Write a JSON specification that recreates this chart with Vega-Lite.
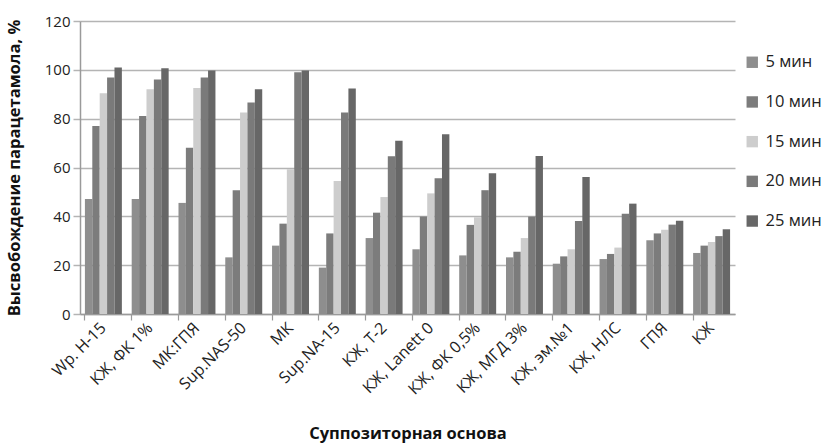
{
  "$schema": "https://vega.github.io/schema/vega-lite/v6.json",
  "autosize": "none",
  "width": 655,
  "height": 293,
  "padding": {"left": 80, "top": 21, "right": 93, "bottom": 131},
  "background": "white",
  "config": {
    "view": {"stroke": null},
    "font": "Open Sans",
    "axis": {"labelFont": "Open Sans", "titleFont": "Open Sans", "labelColor": "#222", "titleColor": "#111"}
  },
  "data": {"values": [
    {"base": "Wp. H-15", "t": "5 мин", "v": 47.1}, {"base": "Wp. H-15", "t": "10 мин", "v": 77.0}, {"base": "Wp. H-15", "t": "15 мин", "v": 90.4}, {"base": "Wp. H-15", "t": "20 мин", "v": 96.9}, {"base": "Wp. H-15", "t": "25 мин", "v": 101.0},
    {"base": "КЖ, ФК 1%", "t": "5 мин", "v": 47.1}, {"base": "КЖ, ФК 1%", "t": "10 мин", "v": 81.1}, {"base": "КЖ, ФК 1%", "t": "15 мин", "v": 92.0}, {"base": "КЖ, ФК 1%", "t": "20 мин", "v": 96.0}, {"base": "КЖ, ФК 1%", "t": "25 мин", "v": 100.6},
    {"base": "МК:ГПЯ", "t": "5 мин", "v": 45.5}, {"base": "МК:ГПЯ", "t": "10 мин", "v": 68.1}, {"base": "МК:ГПЯ", "t": "15 мин", "v": 92.6}, {"base": "МК:ГПЯ", "t": "20 мин", "v": 96.9}, {"base": "МК:ГПЯ", "t": "25 мин", "v": 99.7},
    {"base": "Sup.NAS-50", "t": "5 мин", "v": 23.2}, {"base": "Sup.NAS-50", "t": "10 мин", "v": 50.7}, {"base": "Sup.NAS-50", "t": "15 мин", "v": 82.5}, {"base": "Sup.NAS-50", "t": "20 мин", "v": 86.6}, {"base": "Sup.NAS-50", "t": "25 мин", "v": 92.0},
    {"base": "МК", "t": "5 мин", "v": 28.0}, {"base": "МК", "t": "10 мин", "v": 37.0}, {"base": "МК", "t": "15 мин", "v": 59.3}, {"base": "МК", "t": "20 мин", "v": 99.0}, {"base": "МК", "t": "25 мин", "v": 99.7},
    {"base": "Sup.NA-15", "t": "5 мин", "v": 19.0}, {"base": "Sup.NA-15", "t": "10 мин", "v": 33.0}, {"base": "Sup.NA-15", "t": "15 мин", "v": 54.5}, {"base": "Sup.NA-15", "t": "20 мин", "v": 82.5}, {"base": "Sup.NA-15", "t": "25 мин", "v": 92.4},
    {"base": "КЖ, Т-2", "t": "5 мин", "v": 31.1}, {"base": "КЖ, Т-2", "t": "10 мин", "v": 41.5}, {"base": "КЖ, Т-2", "t": "15 мин", "v": 47.9}, {"base": "КЖ, Т-2", "t": "20 мин", "v": 64.6}, {"base": "КЖ, Т-2", "t": "25 мин", "v": 71.0},
    {"base": "КЖ, Lanett 0", "t": "5 мин", "v": 26.5}, {"base": "КЖ, Lanett 0", "t": "10 мин", "v": 39.9}, {"base": "КЖ, Lanett 0", "t": "15 мин", "v": 49.4}, {"base": "КЖ, Lanett 0", "t": "20 мин", "v": 55.6}, {"base": "КЖ, Lanett 0", "t": "25 мин", "v": 73.6},
    {"base": "КЖ, ФК 0,5%", "t": "5 мин", "v": 24.0}, {"base": "КЖ, ФК 0,5%", "t": "10 мин", "v": 36.5}, {"base": "КЖ, ФК 0,5%", "t": "15 мин", "v": 39.6}, {"base": "КЖ, ФК 0,5%", "t": "20 мин", "v": 50.7}, {"base": "КЖ, ФК 0,5%", "t": "25 мин", "v": 57.6},
    {"base": "КЖ, МГД 3%", "t": "5 мин", "v": 23.2}, {"base": "КЖ, МГД 3%", "t": "10 мин", "v": 25.5}, {"base": "КЖ, МГД 3%", "t": "15 мин", "v": 31.1}, {"base": "КЖ, МГД 3%", "t": "20 мин", "v": 39.9}, {"base": "КЖ, МГД 3%", "t": "25 мин", "v": 64.7},
    {"base": "КЖ, эм.№1", "t": "5 мин", "v": 20.6}, {"base": "КЖ, эм.№1", "t": "10 мин", "v": 23.6}, {"base": "КЖ, эм.№1", "t": "15 мин", "v": 26.5}, {"base": "КЖ, эм.№1", "t": "20 мин", "v": 38.1}, {"base": "КЖ, эм.№1", "t": "25 мин", "v": 56.1},
    {"base": "КЖ, НЛС", "t": "5 мин", "v": 22.5}, {"base": "КЖ, НЛС", "t": "10 мин", "v": 24.6}, {"base": "КЖ, НЛС", "t": "15 мин", "v": 27.2}, {"base": "КЖ, НЛС", "t": "20 мин", "v": 41.1}, {"base": "КЖ, НЛС", "t": "25 мин", "v": 45.2},
    {"base": "ГПЯ", "t": "5 мин", "v": 30.2}, {"base": "ГПЯ", "t": "10 мин", "v": 33.0}, {"base": "ГПЯ", "t": "15 мин", "v": 34.5}, {"base": "ГПЯ", "t": "20 мин", "v": 36.6}, {"base": "ГПЯ", "t": "25 мин", "v": 38.2},
    {"base": "КЖ", "t": "5 мин", "v": 25.0}, {"base": "КЖ", "t": "10 мин", "v": 28.0}, {"base": "КЖ", "t": "15 мин", "v": 29.5}, {"base": "КЖ", "t": "20 мин", "v": 31.9}, {"base": "КЖ", "t": "25 мин", "v": 34.7}
  ]},
  "mark": {"type": "bar"},
  "encoding": {
    "x": {
      "field": "base", "type": "nominal", "sort": null,
      "scale": {"paddingInner": 0.21, "paddingOuter": 0.105},
      "axis": {
        "title": "Суппозиторная основа", "titleFontSize": 16.5, "titleFontWeight": "bold", "titlePadding": 28,
        "labelAngle": -45, "labelFontSize": 16, "labelAlign": "right", "labelBaseline": "middle", "labelPadding": 5,
        "domainColor": "#9a9a9a", "domainWidth": 1.5, "tickColor": "#9a9a9a", "tickSize": 6, "tickWidth": 1.2, "bandPosition": 0
      }
    },
    "xOffset": {"field": "t", "type": "nominal", "sort": ["5 мин", "10 мин", "15 мин", "20 мин", "25 мин"], "scale": {"paddingInner": 0, "paddingOuter": 0}},
    "y": {
      "field": "v", "type": "quantitative",
      "scale": {"domain": [0, 120]},
      "axis": {
        "title": "Высвобождение парацетамола, %", "titleFontSize": 16.5, "titleFontWeight": "bold", "titlePadding": 22,
        "values": [0, 20, 40, 60, 80, 100, 120], "labelFontSize": 15, "labelPadding": 3,
        "grid": true, "gridColor": "#b4b4b4", "gridWidth": 1.5,
        "domainColor": "#9a9a9a", "domainWidth": 1.5, "tickColor": "#b4b4b4", "tickSize": 7, "tickWidth": 1.5
      }
    },
    "color": {
      "field": "t", "type": "nominal",
      "sort": ["5 мин", "10 мин", "15 мин", "20 мин", "25 мин"],
      "scale": {"domain": ["5 мин", "10 мин", "15 мин", "20 мин", "25 мин"], "range": ["#8e8e8e", "#7c7c7c", "#cdcdcd", "#7a7a7a", "#676767"]},
      "legend": {
        "title": null, "orient": "none", "legendX": 664, "legendY": 33,
        "symbolType": "square", "symbolSize": 130, "symbolStrokeWidth": 0,
        "labelFontSize": 16.5, "labelColor": "#222", "rowPadding": 22.7, "labelOffset": 5
      }
    }
  }
}
